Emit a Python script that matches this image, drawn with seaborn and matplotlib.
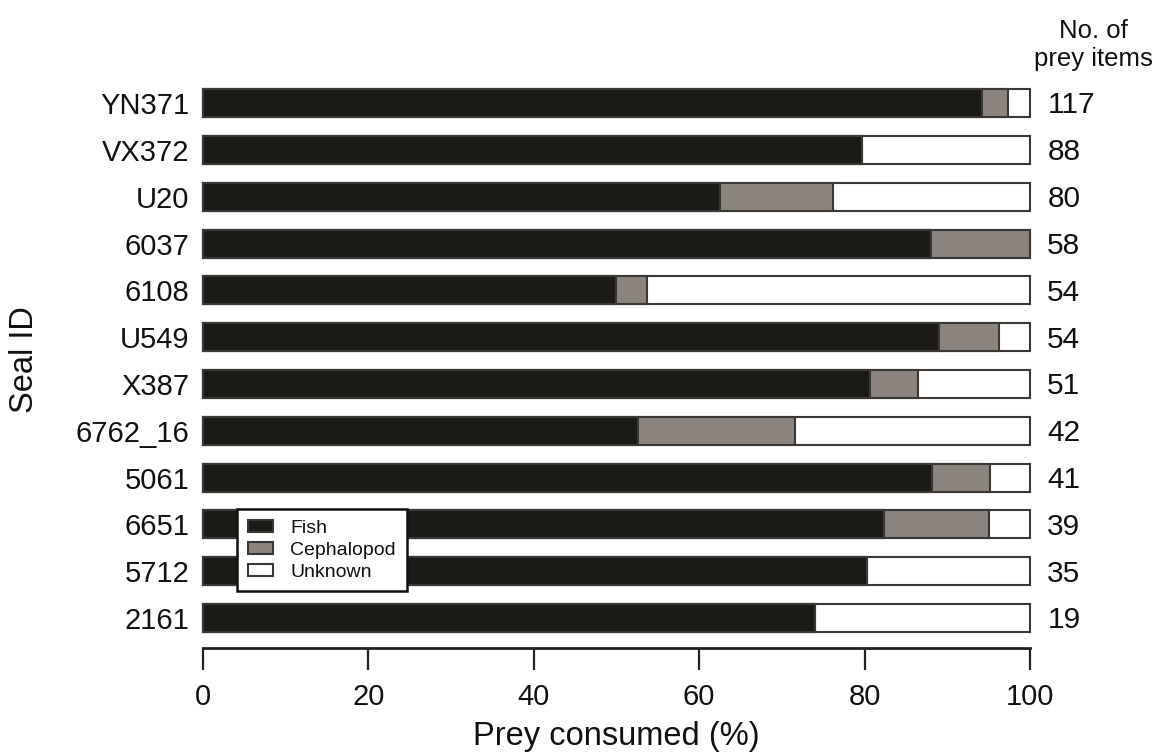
import numpy as np
import pandas as pd
import seaborn as sns
import matplotlib.pyplot as plt

# Data
seals = ['YN371', 'VX372', 'U20', '6037', '6108', 'U549', 'X387',
         '6762_16', '5061', '6651', '5712', '2161']
fish = [94.2, 79.7, 62.5, 88.0, 50.0, 89.0, 80.7, 52.6, 88.1, 82.3, 80.3, 74.0]
cephalopod = [3.2, 0.0, 13.7, 12.0, 3.7, 7.3, 5.8, 19.0, 7.1, 12.7, 0.0, 0.0]
n_items = [117, 88, 80, 58, 54, 54, 51, 42, 41, 39, 35, 19]

df = pd.DataFrame({'seal': seals, 'fish': fish, 'ceph': cephalopod})
df['unknown'] = 100 - df['fish'] - df['ceph']
df['fish_ceph'] = df['fish'] + df['ceph']
df['total'] = df['fish_ceph'] + df['unknown']

sns.set_style('white')
plt.rcParams['font.family'] = ['Liberation Sans', 'DejaVu Sans']
plt.rcParams['text.color'] = '#111111'
plt.rcParams['axes.labelcolor'] = '#111111'
plt.rcParams['xtick.color'] = '#111111'
plt.rcParams['ytick.color'] = '#111111'

fig = plt.figure(figsize=(11.57, 7.56), dpi=100)
ax = fig.add_axes([0.1683, 0.1423, 0.729, 0.7646])

edge = '#3a3835'
# cumulative bars drawn back to front
sns.barplot(data=df, y='seal', x='total', color='white', edgecolor=edge,
            linewidth=1.5, width=0.6, label='Unknown', ax=ax, saturation=1)
sns.barplot(data=df, y='seal', x='fish_ceph', color='#8b847e', edgecolor=edge,
            linewidth=1.5, width=0.6, label='Cephalopod', ax=ax, saturation=1)
sns.barplot(data=df, y='seal', x='fish', color='#1c1a16', edgecolor=edge,
            linewidth=1.5, width=0.6, label='Fish', ax=ax, saturation=1)

ax.set_xlim(-1, 101)
ax.set_ylim(11.65, -0.7)
ax.set_xticks([0, 20, 40, 60, 80, 100])
for s in ['top', 'right', 'left']:
    ax.spines[s].set_visible(False)
ax.spines['bottom'].set_bounds(0, 100)
ax.spines['bottom'].set_linewidth(2)
ax.spines['bottom'].set_color('#222222')
ax.tick_params(axis='x', direction='out', length=16, width=1.6,
               labelsize=21, pad=9, color='#222222', bottom=True)
ax.tick_params(axis='y', length=0, labelsize=21, pad=4)

ax.set_xlabel('Prey consumed (%)', fontsize=23.5, labelpad=7)
ax.set_ylabel('Seal ID', fontsize=23.5)
ax.yaxis.set_label_coords(-0.183, 0.5)

# prey item counts on the right
for i, n in enumerate(n_items):
    ax.text(102.1, i + 0.05, str(n), ha='left', va='center', fontsize=21.5,
            clip_on=False)
ax.text(107.7, -1.24, 'No. of\nprey items', ha='center', va='center',
        fontsize=18.5, linespacing=1.25, clip_on=False)

handles, labels = ax.get_legend_handles_labels()
leg = ax.legend(handles[::-1], labels[::-1], loc='upper left',
                bbox_to_anchor=(0.050, 0.241), borderaxespad=0,
                fontsize=14, frameon=True, fancybox=False,
                handlelength=1.3, handleheight=0.6, handletextpad=0.9,
                labelspacing=0.25, borderpad=0.55)
leg.get_frame().set_edgecolor('#111111')
leg.get_frame().set_linewidth(1.8)
leg.get_frame().set_alpha(1)

fig.savefig('out.png', dpi=100)
